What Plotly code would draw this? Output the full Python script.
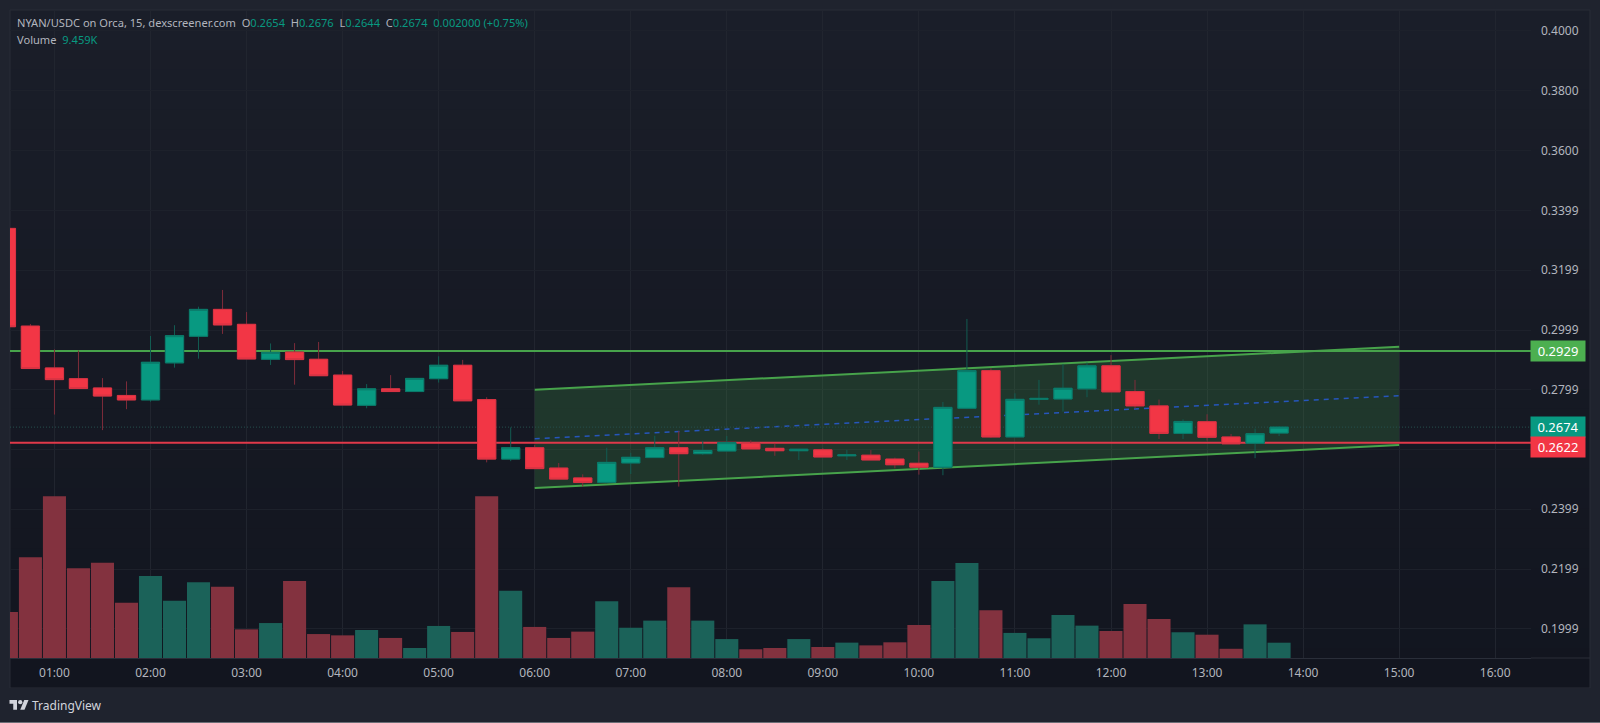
import numpy as np
import pandas as pd
import plotly.graph_objects as go

# 15-minute candles from 00:30 to 13:45
opens = [0.3339, 0.3012, 0.2872, 0.2836, 0.2805, 0.2780, 0.2765, 0.2889, 0.2978, 0.3068,
         0.3018, 0.2901, 0.2925, 0.2901, 0.2848, 0.2747, 0.2802, 0.2793, 0.2836, 0.2881,
         0.2766, 0.2567, 0.2605, 0.2537, 0.2504, 0.2489, 0.2554, 0.2572, 0.2605, 0.2585,
         0.2594, 0.2620, 0.2603, 0.2595, 0.2598, 0.2578, 0.2580, 0.2567, 0.2553, 0.2540,
         0.2737, 0.2863, 0.2641, 0.2767, 0.2768, 0.2802, 0.2879, 0.2793, 0.2745, 0.2653,
         0.2692, 0.2641, 0.2620, 0.2654]
highs = [0.3339, 0.3019, 0.2934, 0.2930, 0.2838, 0.2827, 0.2979, 0.3015, 0.3077, 0.3133,
         0.3059, 0.2954, 0.2955, 0.2959, 0.2862, 0.2818, 0.2848, 0.2837, 0.2911, 0.2899,
         0.2774, 0.2673, 0.2614, 0.2554, 0.2516, 0.2605, 0.2588, 0.2645, 0.2661, 0.2628,
         0.2644, 0.2630, 0.2618, 0.2600, 0.2604, 0.2598, 0.2597, 0.2572, 0.2592, 0.2758,
         0.3036, 0.2871, 0.2787, 0.2832, 0.2885, 0.2890, 0.2915, 0.2832, 0.2766, 0.2700,
         0.2717, 0.2651, 0.2669, 0.2676]
lows = [0.3010, 0.2870, 0.2716, 0.2803, 0.2664, 0.2734, 0.2759, 0.2873, 0.2903, 0.2986,
        0.2902, 0.2882, 0.2816, 0.2846, 0.2748, 0.2737, 0.2793, 0.2793, 0.2823, 0.2762,
        0.2556, 0.2560, 0.2535, 0.2500, 0.2475, 0.2486, 0.2517, 0.2572, 0.2475, 0.2581,
        0.2594, 0.2601, 0.2578, 0.2564, 0.2574, 0.2564, 0.2564, 0.2536, 0.2515, 0.2513,
        0.2734, 0.2638, 0.2641, 0.2749, 0.2726, 0.2774, 0.2792, 0.2736, 0.2634, 0.2634,
        0.2629, 0.2618, 0.2570, 0.2644]
closes = [0.3010, 0.2870, 0.2833, 0.2803, 0.2778, 0.2765, 0.2891, 0.2980, 0.3068, 0.3016,
          0.2902, 0.2924, 0.2900, 0.2846, 0.2748, 0.2802, 0.2793, 0.2837, 0.2881, 0.2762,
          0.2567, 0.2605, 0.2535, 0.2500, 0.2489, 0.2556, 0.2573, 0.2605, 0.2585, 0.2596,
          0.2622, 0.2601, 0.2595, 0.2600, 0.2574, 0.2581, 0.2564, 0.2548, 0.2540, 0.2740,
          0.2863, 0.2641, 0.2767, 0.2770, 0.2804, 0.2879, 0.2792, 0.2745, 0.2653, 0.2693,
          0.2640, 0.2618, 0.2652, 0.2674]
# traded volume per candle, in thousands
volumes = [28.4, 62.2, 99.9, 55.4, 58.9, 34.2, 50.7, 35.4, 46.8, 44.1,
           17.7, 21.6, 47.6, 14.8, 14.0, 17.3, 12.4, 6.2, 19.8, 16.1,
           99.9, 41.6, 19.2, 12.4, 16.3, 35.0, 18.7, 23.1, 43.7, 23.1,
           11.7, 5.4, 6.2, 11.7, 6.8, 9.5, 7.8, 9.7, 20.4, 47.6,
           58.7, 29.5, 15.5, 12.2, 26.6, 20.0, 16.7, 33.4, 24.1, 15.9,
           14.4, 5.7, 20.8, 9.459]

price_ticks = [0.4000, 0.3800, 0.3600, 0.3399, 0.3199, 0.2999, 0.2799, 0.2599, 0.2399, 0.2199, 0.1999]
price_tick_text = ["0.4000", "0.3800", "0.3600", "0.3399", "0.3199", "0.2999", "0.2799", "", "0.2399", "0.2199", "0.1999"]

resistance = 0.2929
support = 0.2622
last_close = 0.2674

channel_times = ["2024-05-01 06:00", "2024-05-01 15:00"]
channel_upper = [0.2799, 0.2943]
channel_middle = [0.2635, 0.2779]
channel_lower = [0.2470, 0.2614]

UP = "#089981"
DOWN = "#f23645"
LEVEL_GREEN = "#4caf50"
TEXT = "#b2b5be"
FRAME = "#1f232e"
FONT = "Noto Sans, sans-serif"

W, H = 1600, 723
LEFT, RIGHT, TOP, BOTTOM = 10, 1531, 10, 658
PRICE_RANGE = [0.19013, 0.40699]
VOLUME_RANGE = [0, 400.5]
TIME_RANGE = ["2024-05-01 00:32:14", "2024-05-01 16:22:22"]


def xp(px):
    return (px - LEFT) / (RIGHT - LEFT)


def yp(px):
    return (BOTTOM - px) / (BOTTOM - TOP)


times = pd.date_range("2024-05-01 00:30", periods=len(opens), freq="15min")
o, c = np.array(opens), np.array(closes)
volume_colors = ["#1b6259" if cl >= op else "#83323f" for op, cl in zip(opens, closes)]

fig = go.Figure()

# volume sits on the lowest subplot so everything else draws over it
fig.add_trace(go.Bar(x=times, y=volumes, yaxis="y", marker=dict(color=volume_colors, line_width=0),
                     hoverinfo="skip", showlegend=False))

# channel fill and its three lines, plus the horizontal levels
fig.add_trace(go.Scatter(x=channel_times + channel_times[::-1], y=channel_upper + channel_lower[::-1],
                         yaxis="y2", mode="none", fill="toself", fillcolor="rgba(76,175,80,0.2)",
                         hoverinfo="skip", showlegend=False))
for series, colour, width, dash in [(channel_upper, "#47a34b", 2, "solid"),
                                    (channel_lower, "#47a34b", 2, "solid"),
                                    (channel_middle, "#2656bd", 1.5, "5px,5px")]:
    fig.add_trace(go.Scatter(x=channel_times, y=series, yaxis="y2", mode="lines",
                             line=dict(color=colour, width=width, dash=dash),
                             hoverinfo="skip", showlegend=False))
for level, colour, width, dash in [(last_close, "#244f4d", 1, "1px,2px"),
                                   (resistance, "#47a34b", 2, "solid"),
                                   (support, "#e0394a", 2, "solid")]:
    fig.add_trace(go.Scatter(x=TIME_RANGE, y=[level, level], yaxis="y2", mode="lines",
                             line=dict(color=colour, width=width, dash=dash),
                             hoverinfo="skip", showlegend=False))

# wicks are dimmer than the bodies, so candles are drawn in two passes
fig.add_trace(go.Candlestick(x=times, open=opens, high=highs, low=lows, close=closes, yaxis="y3",
                             increasing=dict(line=dict(color="#125c52", width=1), fillcolor=UP),
                             decreasing=dict(line=dict(color="#7e2c3a", width=1), fillcolor=DOWN),
                             whiskerwidth=0, hoverinfo="skip", showlegend=False))
fig.add_trace(go.Candlestick(x=times, open=opens, close=closes,
                             high=np.maximum(o, c), low=np.minimum(o, c), yaxis="y3",
                             increasing=dict(line=dict(color="#0b7a6a", width=1), fillcolor=UP),
                             decreasing=dict(line=dict(color="#d93444", width=1), fillcolor=DOWN),
                             whiskerwidth=0, hoverinfo="skip", showlegend=False))

# page frame, chart pane with its soft top-to-bottom shade, and the logo
shapes = [dict(type="rect", xref="paper", yref="paper", layer="below", line_width=0, fillcolor="#6b6e76",
               x0=xp(0), x1=xp(W), y0=yp(722), y1=yp(723))]
STRIPS = 34
top_rgb, bottom_rgb = np.array([26, 30, 41]), np.array([18, 21, 31])
for i in range(STRIPS):
    mix = i / (STRIPS - 1)
    r, g, b = (top_rgb + (bottom_rgb - top_rgb) * mix).round().astype(int)
    y0 = TOP + (688 - TOP) * i / STRIPS
    y1 = TOP + (688 - TOP) * (i + 1) / STRIPS
    shapes.append(dict(type="rect", xref="paper", yref="paper", layer="below", line_width=0,
                       fillcolor=f"rgb({r},{g},{b})", x0=xp(10), x1=xp(1590), y0=yp(y0), y1=yp(y1 + 0.5)))
shapes.append(dict(type="rect", xref="paper", yref="paper", layer="below", fillcolor="rgba(0,0,0,0)",
                   line=dict(color="#282c37", width=1), x0=xp(10), x1=xp(1590), y0=yp(10), y1=yp(688)))
# the time-axis rule runs on under the price scale
shapes.append(dict(type="line", xref="paper", yref="paper", layer="below", line=dict(color="#2a2e39", width=1),
                   x0=xp(1531), x1=xp(1590), y0=yp(BOTTOM), y1=yp(BOTTOM)))


def logo_path(points):
    scale, ox, oy = 0.536, 9.5, 700 - 4 * 0.536
    cmds = [("M" if i == 0 else "L") + f"{xp(ox + u * scale):.5f},{yp(oy + v * scale):.5f}"
            for i, (u, v) in enumerate(points)]
    return " ".join(cmds) + " Z"


logo_pieces = [
    [(14, 22), (7, 22), (7, 11), (0, 11), (0, 4), (14, 4)],
    [(28, 22), (20, 22), (27.5, 4), (35.5, 4)],
]
for piece in logo_pieces:
    shapes.append(dict(type="path", xref="paper", yref="paper", layer="above", line_width=0,
                       fillcolor="#d1d4dc", path=logo_path(piece)))
shapes.append(dict(type="circle", xref="paper", yref="paper", layer="above", line_width=0, fillcolor="#d1d4dc",
                   x0=xp(9.5 + 16 * 0.536), x1=xp(9.5 + 24 * 0.536), y0=yp(700), y1=yp(700 + 8 * 0.536)))


def tag(price, colour, yshift=0):
    return dict(xref="paper", yref="y2", x=1.0, y=price, xanchor="left", yanchor="middle", yshift=yshift, xshift=-1,
                text=f"{price:.4f}", showarrow=False, bgcolor=colour, width=54, height=19.6, borderpad=0,
                align="center", font=dict(family=FONT, size=13, color="#ffffff"))


def green(s):
    return f'<span style="color:{UP}">{s}</span>'


annotations = [
    tag(resistance, LEVEL_GREEN),
    tag(last_close, UP),
    tag(support, DOWN, yshift=-4.6),
    dict(xref="paper", yref="paper", x=xp(15), y=yp(23), xanchor="left", yanchor="middle", showarrow=False,
         align="left", font=dict(family=FONT, size=11.1, color=TEXT),
         text="NYAN/USDC on Orca, 15, dexscreener.com&nbsp;&nbsp;O" + green("0.2654")
              + "&nbsp;&nbsp;H" + green("0.2676") + "&nbsp;&nbsp;L" + green("0.2644")
              + "&nbsp;&nbsp;C" + green("0.2674") + "&nbsp;&nbsp;" + green("0.002000 (+0.75%)")),
    dict(xref="paper", yref="paper", x=xp(15), y=yp(40), xanchor="left", yanchor="middle", showarrow=False,
         align="left", font=dict(family=FONT, size=11.1, color=TEXT),
         text="Volume&nbsp;&nbsp;" + green("9.459K")),
    dict(xref="paper", yref="paper", x=xp(30), y=yp(705), xanchor="left", yanchor="middle", showarrow=False,
         font=dict(family=FONT, size=12, color="#d1d4dc"), text="TradingView"),
]

fig.update_layout(
    width=W, height=H, autosize=False,
    margin=dict(l=LEFT, r=W - RIGHT, t=TOP, b=H - BOTTOM, pad=0),
    paper_bgcolor=FRAME, plot_bgcolor="rgba(0,0,0,0)",
    font=dict(family=FONT, size=12, color=TEXT),
    bargap=0.04, boxgap=0.24, boxgroupgap=0, boxmode="overlay", showlegend=False, hovermode=False,
    shapes=shapes, annotations=annotations,
    xaxis=dict(type="date", range=TIME_RANGE, rangeslider_visible=False,
               tick0="2024-05-01 01:00", dtick=3600000, tickformat="%H:%M",
               ticks="", ticklabelstandoff=4, showline=True, linecolor="#2a2e39", linewidth=1,
               showgrid=True, gridcolor="#21252f", gridwidth=1, zeroline=False,
               tickfont=dict(family=FONT, size=12, color=TEXT)),
    yaxis=dict(range=VOLUME_RANGE, visible=False, fixedrange=True),
    yaxis2=dict(range=PRICE_RANGE, overlaying="y", side="right", anchor="x",
                tickmode="array", tickvals=price_ticks, ticktext=price_tick_text,
                ticks="", ticklabelstandoff=9, showline=False, zeroline=False,
                showgrid=True, gridcolor="#1d212b", gridwidth=1,
                tickfont=dict(family=FONT, size=12, color=TEXT)),
    yaxis3=dict(range=PRICE_RANGE, overlaying="y", side="right", anchor="x", visible=False),
)

fig.write_html("out.html", config=dict(displayModeBar=False))
